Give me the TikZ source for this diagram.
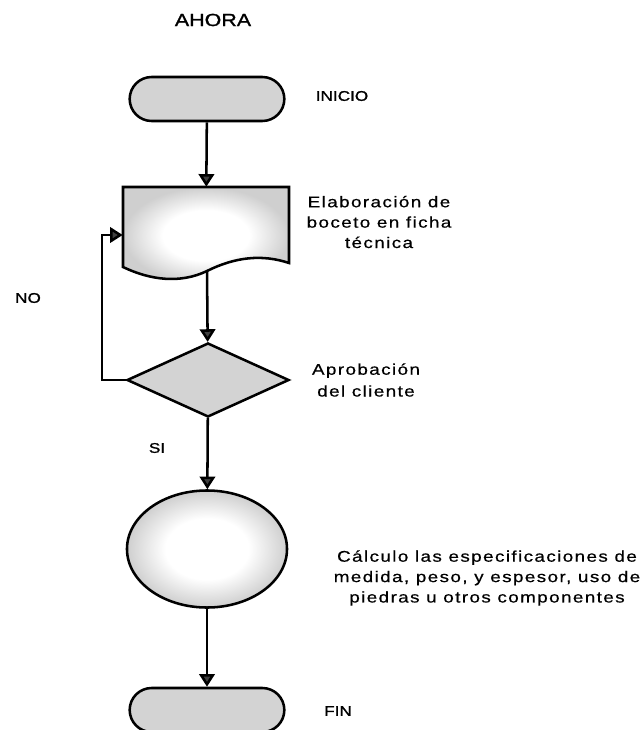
\documentclass[tikz,border=0pt]{standalone}
\usepackage{fontspec}
\setsansfont{Liberation Sans}[FakeStretch=1.22, FakeBold=1.2]
\newfontfamily\textoflujo{Liberation Sans}[FakeStretch=1.22, LetterSpace=9, FakeBold=0.5]
\usetikzlibrary{shapes.geometric, shapes.misc, arrows.meta, positioning}
\definecolor{grisforma}{RGB}{211,211,211}
\pgfdeclareradialshading{brillo}{\pgfpoint{0bp}{0bp}}{color(0bp)=(white); color(13bp)=(white); color(25bp)=(gray!38); color(50bp)=(gray!38)}
\tikzset{
  forma/.style={draw=black, line width=1.8pt},
  terminal/.style={forma, rounded rectangle, fill=grisforma, minimum width=4.1cm, minimum height=1.1cm},
  decision/.style={forma, diamond, fill=grisforma, inner sep=0pt, minimum width=4.05cm, minimum height=1.85cm},
  proceso/.style={forma, ellipse, shading=brillo, minimum width=4cm, minimum height=2.925cm},
  flecha/.style={line width=1.8pt, -{Triangle[width=11pt,length=9pt,fill=black!75]}},
  etiqueta/.style={font=\sffamily\fontsize{10}{12}\selectfont},
  texto/.style={font=\textoflujo\fontsize{11}{14.5}\selectfont, align=center}
}

\begin{document}
\begin{tikzpicture}[x=0.025cm, y=-0.025cm]
  \useasboundingbox (0,0) rectangle (644,730);
  \clip (0,0) rectangle (644,730);
  % Título
  \node[etiqueta, font=\sffamily\fontsize{12.5}{14}\selectfont] (titulo) at (213,20) {AHORA};
  % Formas del diagrama
  \node[terminal] (inicio) at (207,99) {};
  \node[minimum width=4.15cm, minimum height=2cm, inner sep=0pt] (boceto) at (206,227) {};
  \path[forma, shading=brillo]
    (123,187) -- (289,187) -- (289,263)
    .. controls (262,254) and (235,257) .. (207,271)
    .. controls (180,284) and (150,280) .. (123,267) -- cycle;
  \coordinate (bocetob) at (207,271);
  \node[decision] (aprob) at (208,380) {};
  \node[proceso] (calculo) at (207,549) {};
  \node[terminal] (fin) at (207,710) {};
  % Conectores
  \draw[flecha] (inicio) -- (boceto);
  \draw[flecha] (bocetob) -- (aprob);
  \draw[flecha] (aprob) -- (calculo);
  \draw[flecha] (calculo) -- (fin);
  \coordinate (retorno) at (102,235);
  \draw[flecha] (aprob.west) -| (retorno) -- (retorno -| boceto.west);
  % Textos
  \node[etiqueta] (tinicio) at (342,96) {INICIO};
  \node[texto] (tboceto) at (379,222) {Elaboración de\\boceto en ficha\\técnica};
  \node[etiqueta] (tno) at (28,298) {NO};
  \node[texto, font=\textoflujo\fontsize{11}{15.5}\selectfont] (taprob) at (366,380) {Aprobación\\del cliente};
  \node[etiqueta] (tsi) at (157,448) {SI};
  \node[texto] (tcalculo) at (487,578) {Cálculo las especificaciones de\\medida, peso, y espesor, uso de\\piedras u otros componentes};
  \node[etiqueta] (tfin) at (338,711) {FIN};
\end{tikzpicture}
\end{document}
